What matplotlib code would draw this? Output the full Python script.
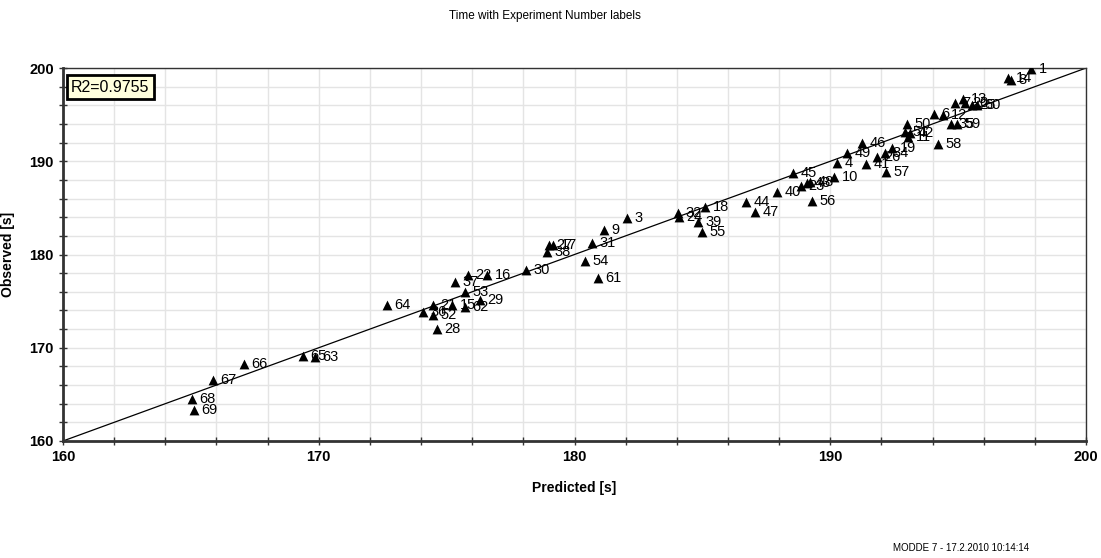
import numpy as np
import matplotlib.pyplot as plt
from matplotlib.ticker import MultipleLocator

plt.rcParams['font.family'] = ['Liberation Sans', 'DejaVu Sans']

# experiment number, predicted, observed
exp_no = [1, 14, 8, 7, 13, 20, 25, 60, 6, 12, 35, 59, 50, 51, 42, 11, 46, 19, 49, 34,
          26, 41, 58, 57, 4, 10, 18, 44, 47, 40, 45, 23, 43, 48, 56, 39, 55, 3, 9, 32,
          24, 31, 54, 61, 30, 27, 17, 38, 22, 16, 37, 53, 29, 15, 62, 21, 36, 52, 28, 64,
          66, 67, 68, 69, 65, 63]
predicted = [197.85, 196.95, 197.07, 194.88, 195.19, 195.27, 195.54, 195.74, 194.06, 194.41,
             194.72, 194.96, 193.0, 192.92, 193.12, 193.04, 191.24, 192.41, 190.65, 192.14,
             191.83, 191.4, 194.21, 192.18, 190.26, 190.15, 185.1, 186.71, 187.06, 187.92,
             188.54, 188.86, 189.09, 189.21, 189.29, 184.83, 184.99, 182.05, 181.15, 184.05,
             184.09, 180.68, 180.41, 180.92, 178.1, 179.0, 179.16, 178.92, 175.84, 176.58,
             175.33, 175.72, 176.3, 175.21, 175.72, 174.47, 174.08, 174.47, 174.62, 172.67,
             167.08, 165.87, 165.04, 165.12, 169.38, 169.85]
observed = [199.9, 198.93, 198.71, 196.25, 196.68, 196.25, 196.03, 196.03, 195.07, 194.96,
            193.99, 193.99, 193.99, 193.14, 193.03, 192.6, 191.96, 191.42, 190.88, 190.88,
            190.46, 189.71, 191.85, 188.85, 189.81, 188.31, 185.09, 185.63, 184.56, 186.7,
            188.74, 187.35, 187.67, 187.77, 185.74, 183.49, 182.41, 183.91, 182.63, 184.45,
            184.02, 181.23, 179.3, 177.48, 178.34, 181.02, 181.02, 180.27, 177.8, 177.8,
            177.05, 175.98, 175.12, 174.58, 174.37, 174.58, 173.83, 173.51, 172.01, 174.58,
            168.26, 166.54, 164.5, 163.32, 169.12, 169.01]
r2 = 0.9755
lims = [160, 200]

fig = plt.figure(figsize=(11.01, 5.58), dpi=100)
ax = fig.add_axes([0.0572, 0.2097, 0.9292, 0.6684])

ax.set_xlim(lims)
ax.set_ylim(lims)
ax.xaxis.set_major_locator(MultipleLocator(10))
ax.yaxis.set_major_locator(MultipleLocator(10))
ax.xaxis.set_minor_locator(MultipleLocator(2))
ax.yaxis.set_minor_locator(MultipleLocator(2))
ax.grid(True, which='both', color='#e4e4e4', lw=1)
ax.set_axisbelow(True)
ax.tick_params(which='both', direction='inout', length=6, width=1, color='#333333')
ax.tick_params(labelsize=10.5)
for t in ax.get_xticklabels() + ax.get_yticklabels():
    t.set_fontweight('bold')

for s in ['left', 'bottom']:
    ax.spines[s].set_linewidth(2)
    ax.spines[s].set_color('#333333')
for s in ['top', 'right']:
    ax.spines[s].set_linewidth(1)
    ax.spines[s].set_color('#333333')

ax.plot(lims, lims, color='black', lw=0.9, zorder=2)
ax.scatter(predicted, observed, marker='^', s=50, color='black', zorder=3, linewidths=0)
for n, x, y in zip(exp_no, predicted, observed):
    ax.annotate(str(n), (x, y), xytext=(5.5, 0), textcoords='offset points',
                va='center', ha='left', fontsize=10.5, zorder=4)

ax.text(0.008, 0.968, 'R2=%.4f' % r2, transform=ax.transAxes, va='top', ha='left',
        fontsize=11.5, bbox=dict(boxstyle='square,pad=0.28', fc='#ffffdd', ec='black', lw=2))

ax.set_xlabel('Predicted [s]', fontsize=10, fontweight='bold', labelpad=12)
ax.set_ylabel('Observed [s]', fontsize=10, fontweight='bold', labelpad=10)
fig.text(0.495, 0.972, 'Time with Experiment Number labels', ha='center', va='center', fontsize=8.5)
fig.text(0.935, 0.018, 'MODDE 7 - 17.2.2010 10:14:14', ha='right', va='center', fontsize=7)

fig.savefig('out.png', dpi=100)
